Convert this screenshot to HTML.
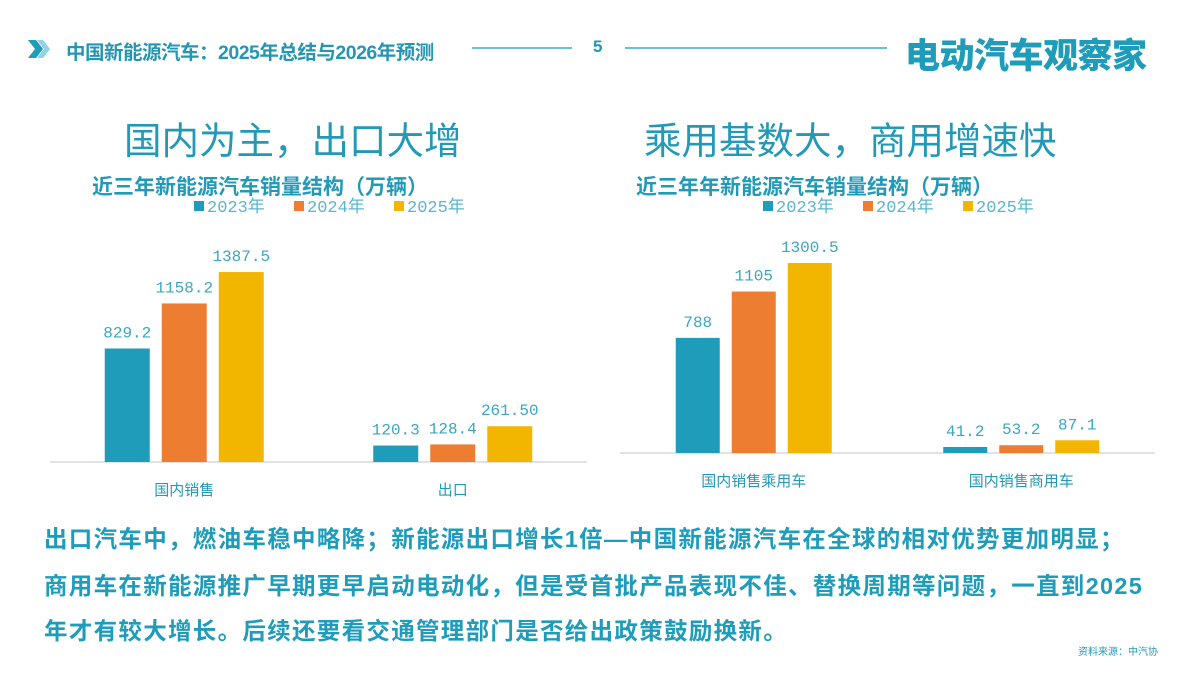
<!DOCTYPE html>
<html><head><meta charset="utf-8">
<style>
body{margin:0;width:1200px;height:675px;background:#fff;overflow:hidden;font-family:"Liberation Sans","Noto Sans CJK SC",sans-serif;color:#2399b8;position:relative}
.abs{position:absolute;white-space:nowrap}
.para{left:44px;font-size:23.5px;font-weight:bold;letter-spacing:1.3px;color:#1f9cba}
</style></head><body>
<svg class="abs" style="left:26px;top:38px" width="26" height="22"><path d="M2 2 L10 2 L17 11 L10 20 L2 20 L9 11Z" fill="#1f9cba"/><path d="M11 2 L17 2 L24 11 L17 20 L11 20 L18 11Z" fill="#8fd3e6"/></svg>
<div class="abs" style="left:66px;top:36px;font-size:19.5px;font-weight:bold;letter-spacing:-0.5px;color:#2495b3">中国新能源汽车：2025年总结与2026年预测</div>
<div class="abs" style="left:472px;top:47px;width:100px;height:2px;background:#6cc0d6"></div>
<div class="abs" style="left:593px;top:37px;font-size:17px;font-weight:bold;color:#2495b3">5</div>
<div class="abs" style="left:625px;top:47px;width:262px;height:2px;background:#6cc0d6"></div>
<div class="abs" style="left:905px;top:28px;font-size:35px;font-weight:900;letter-spacing:-0.5px;color:#1f9cba">电动汽车观察家</div>

<div class="abs" style="left:124px;top:110px;font-size:37.5px;color:#2399b8">国内为主，出口大增</div>
<div class="abs" style="left:644px;top:110px;font-size:37.5px;color:#2399b8">乘用基数大，商用增速快</div>

<svg class="abs" style="left:0;top:0" width="1200" height="510" id="charts"></svg>

<div class="abs para" style="top:520px">出口汽车中，燃油车稳中略降；新能源出口增长1倍—中国新能源汽车在全球的相对优势更加明显；</div>
<div class="abs para" style="top:567px">商用车在新能源推广早期更早启动电动化，但是受首批产品表现不佳、替换周期等问题，一直到2025</div>
<div class="abs para" style="top:612px">年才有较大增长。后续还要看交通管理部门是否给出政策鼓励换新。</div>
<div class="abs" style="left:1078px;top:643px;font-size:10px;color:#2399b8">资料来源：中汽协</div>

<script>
const seriesNames=["2023年","2024年","2025年"];
const leftCats=["国内销售","出口"];
const leftValues=[[829.2,120.3],[1158.2,128.4],[1387.5,261.5]];
const leftLabels=[["829.2","120.3"],["1158.2","128.4"],["1387.5","261.50"]];
const rightCats=["国内销售乘用车","国内销售商用车"];
const rightValues=[[788,41.2],[1105,53.2],[1300.5,87.1]];
const rightLabels=[["788","41.2"],["1105","53.2"],["1300.5","87.1"]];
const colors=["#1f9cba","#ed7d31","#f2b600"];
const svg=document.getElementById('charts');
const NS='http://www.w3.org/2000/svg';
function mk(tag,attrs,text){const e=document.createElementNS(NS,tag);for(const k in attrs)e.setAttribute(k,attrs[k]);if(text!=null)e.textContent=text;svg.appendChild(e);return e;}
function chart(o){
  const y=v=>o.base-v*o.scale;
  mk('text',{x:o.titleX,y:o.titleY,'font-size':21,'font-weight':'bold',fill:'#2399b8'},o.title);
  seriesNames.forEach((s,i)=>{
    const r=mk('rect',{x:o.legX+i*100,y:o.legY-11,width:10,height:10,fill:colors[i]});
    
    const t=mk('text',{x:o.legX+13+i*100,y:o.legY,'font-size':17,fill:'#5ab6cd','font-family':'Liberation Mono,Noto Sans CJK SC,monospace'},s);
    
  });
  const ax=mk('line',{x1:o.x0,x2:o.x1,y1:o.base,y2:o.base,stroke:'#d9d9d9','stroke-width':1.5});
  
  const gw=(o.x1-o.x0)/o.cats.length;
  o.cats.forEach((c,ci)=>{
    const cx=o.x0+gw*(ci+0.5);
    o.values.forEach((ser,si)=>{
      const v=ser[ci];const bx=cx+(si-1)*o.step-o.bw/2;
      const b=mk('rect',{x:bx,y:y(v),width:o.bw,height:o.base-y(v),fill:colors[si]});
      
      const l=mk('text',{x:bx+o.bw/2,y:y(v)-11,'text-anchor':'middle','font-size':16,fill:'#3aa6c2','font-family':'Liberation Mono,monospace'},o.labels[si][ci]);
      
    });
    const t=mk('text',{x:cx,y:o.base+33,'text-anchor':'middle','font-size':15,fill:'#2399b8'},c);
    
  });
}
chart({cats:leftCats,values:leftValues,labels:leftLabels,x0:50,x1:587,base:462,scale:0.1369,bw:45,step:57,title:"近三年新能源汽车销量结构（万辆）",titleX:92,titleY:194,legX:194,legY:212});
chart({cats:rightCats,values:rightValues,labels:rightLabels,x0:620,x1:1155,base:453,scale:0.1461,bw:44,step:56,title:"近三年年新能源汽车销量结构（万辆）",titleX:636,titleY:194,legX:763,legY:212});
</script>
</body></html>
